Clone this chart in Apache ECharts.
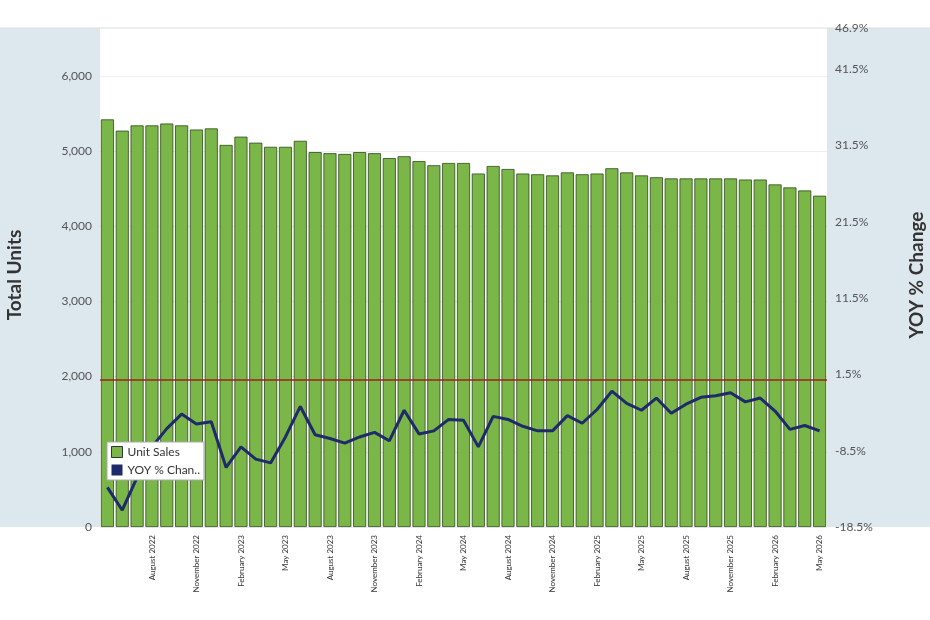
<!DOCTYPE html>
<html><head><meta charset="utf-8">
<script src="https://cdn.jsdelivr.net/npm/echarts@6/dist/echarts.min.js"></script>
<style>html,body{margin:0;padding:0;background:#fff}#c{width:930px;height:620px}</style>
</head><body><div id="c"></div>
<script>
const monthNames=["January","February","March","April","May","June","July","August","September","October","November","December"];
const months=[];
for(let i=0;i<49;i++){const m=(4+i)%12,y=2022+Math.floor((4+i)/12);months.push(monthNames[m]+" "+y);}
const unitSales=[5420,5270,5340,5340,5365,5340,5285,5300,5080,5190,5110,5055,5055,5135,4985,4970,4960,4985,4970,4905,4930,4865,4810,4840,4840,4700,4800,4760,4700,4690,4675,4715,4690,4700,4770,4715,4675,4650,4635,4635,4635,4635,4635,4620,4620,4555,4515,4475,4405];
const yoyChange=[-13.3,-16.3,-12,-8,-5.6,-3.7,-5,-4.7,-10.7,-8,-9.6,-10.1,-6.7,-2.7,-6.4,-6.9,-7.5,-6.7,-6.1,-7.2,-3.2,-6.3,-5.9,-4.4,-4.5,-8,-4,-4.4,-5.3,-5.9,-5.9,-3.9,-4.9,-3.1,-0.7,-2.3,-3.2,-1.6,-3.6,-2.4,-1.5,-1.3,-0.9,-2.1,-1.6,-3.3,-5.7,-5.2,-5.9];
const leftTicks=[0,1000,2000,3000,4000,5000,6000];
const rightTicks=[-10,0,10,20,30,40];
const ch=echarts.init(document.getElementById('c'));
ch.setOption({
  animation:false,
  graphic:[
    {type:'rect',shape:{x:0,y:28,width:100,height:499},style:{fill:'#dde7ee'},z:-10},
    {type:'rect',shape:{x:827,y:28,width:103,height:499},style:{fill:'#dde7ee'},z:-10},
    {type:'line',shape:{x1:0,y1:28,x2:930,y2:28},style:{stroke:'#ddd',lineWidth:1}},
    {type:'text',x:15,y:275,rotation:Math.PI/2,style:{text:'Total Units',fontSize:19,fontWeight:'bold',fill:'#333',fontFamily:'Lato',align:'center',verticalAlign:'middle'}},
    {type:'text',x:917,y:275,rotation:Math.PI/2,style:{text:'YOY % Change',fontSize:19,fontWeight:'bold',fill:'#333',fontFamily:'Lato',align:'center',verticalAlign:'middle'}}
  ],
  legend:{left:107,top:442,orient:'vertical',backgroundColor:'#fff',borderColor:'#aaa',borderWidth:1,padding:[4,4],itemGap:6,itemWidth:11,itemHeight:11,icon:'rect',
    textStyle:{fontSize:12,color:'#333',fontFamily:'Lato'},
    formatter:n=>n==='YOY % Change'?'YOY % Chan..':n,
    data:[{name:'Unit Sales',itemStyle:{color:'#7ab648',borderColor:'#333',borderWidth:1}},{name:'YOY % Change',itemStyle:{color:'#1f2a6b'}}]},
  grid:{left:100,right:103,top:28,bottom:93},
  xAxis:{type:'category',data:months,axisTick:{show:false},axisLine:{show:false},
    axisLabel:{rotate:90,fontSize:8,color:'#333',fontFamily:'Lato',interval:0,
      formatter:(v,i)=>(i>0&&i%3===0)?v:''}},
  yAxis:[
    {type:'value',min:0,max:6635,interval:1000,position:'left',splitLine:{lineStyle:{color:'#eee'}},
     axisLabel:{color:'#555',fontSize:12,fontFamily:'Lato',formatter:v=>leftTicks.includes(v)?v.toLocaleString('en-US'):''}},
    {type:'value',min:-18.5,max:46.9,position:'right',splitLine:{show:false},interval:10,
     axisLabel:{color:'#555',fontSize:12,fontFamily:'Lato',formatter:v=>v+'%'},
     customValues:rightTicks}
  ],
  series:[
    {name:'Unit Sales',type:'bar',data:unitSales,barCategoryGap:'12%',itemStyle:{color:'#7ab648',borderColor:'#2e4a1c',borderWidth:0.8},
     markLine:{symbol:'none',silent:true,label:{show:false},lineStyle:{color:'#a02020',type:'solid',width:1.5},data:[{yAxis:1960}]}},
    {name:'YOY % Change',type:'line',yAxisIndex:1,data:yoyChange,symbol:'none',lineStyle:{color:'#1f2a6b',width:3},itemStyle:{color:'#1f2a6b'}}
  ]
});
</script></body></html>
